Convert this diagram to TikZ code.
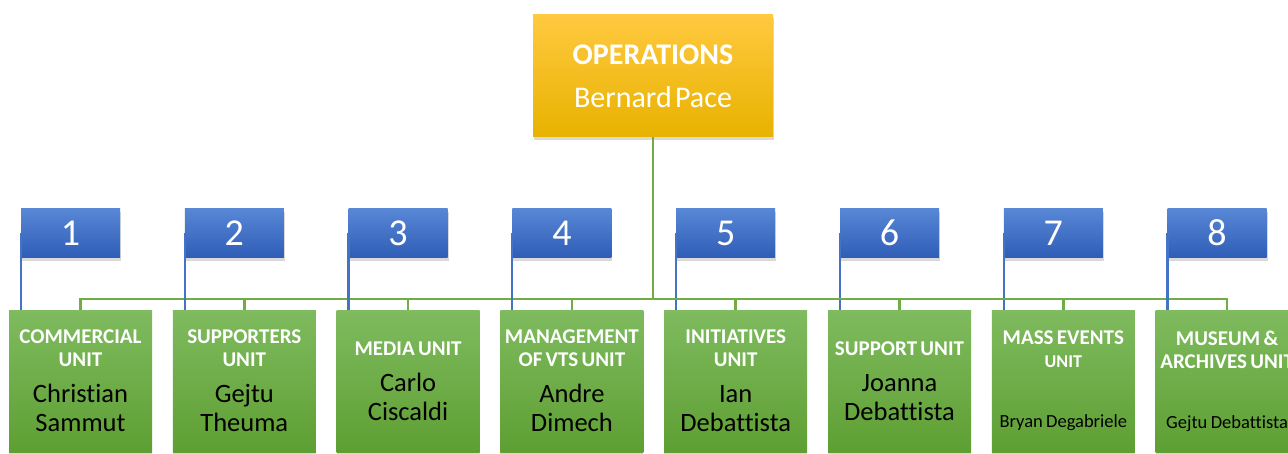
\documentclass[tikz,border=0pt]{standalone}
\usepackage{fontspec}
\setmainfont{Carlito}[Ligatures=NoCommon]
\usetikzlibrary{positioning,shadows}
\definecolor{opstop}{HTML}{FFC940}
\definecolor{opsmid}{HTML}{FFC000}
\definecolor{opsbot}{HTML}{E8B200}
\definecolor{numtop}{HTML}{5887D6}
\definecolor{numbot}{HTML}{2F5DB7}
\definecolor{unittop}{HTML}{7FBB5F}
\definecolor{unitbot}{HTML}{5E9F33}
\definecolor{busgreen}{HTML}{70AD47}
\definecolor{linkblue}{HTML}{4472C4}
\newcommand{\ttlfont}{\fontsize{21}{23}\bfseries\selectfont\color{white}}
\newcommand{\nmefont}{\fontsize{26.5}{29}\selectfont\color{black}}
\tikzset{
    topbox/.style={rectangle, inner sep=0pt, minimum width=240pt, minimum height=122pt,
        text width=240pt, align=center, text=white,
        top color=opstop, middle color=opsmid, bottom color=opsbot,
        drop shadow={opacity=0.3, shadow xshift=1pt, shadow yshift=-3pt}},
    numbox/.style={rectangle, inner sep=0pt, minimum width=99pt, minimum height=49pt,
        text=white, font=\fontsize{38}{40}\selectfont,
        top color=numtop, bottom color=numbot,
        drop shadow={opacity=0.3, shadow xshift=1pt, shadow yshift=-3pt}},
    unitbox/.style={rectangle, inner sep=0pt, minimum width=143pt, minimum height=142pt,
        text width=143pt, align=center,
        top color=unittop, bottom color=unitbot,
        drop shadow={opacity=0.3, shadow xshift=0pt, shadow yshift=-3pt}},
    busline/.style={draw=busgreen, line width=2.6pt},
    numline/.style={draw=linkblue, line width=2.2pt}}
\begin{document}
\begin{tikzpicture}[x=1pt,y=1pt]
\useasboundingbox (0,0) rectangle (1288,453);

% head of the department
\node[topbox] (ops) at (653,377)
    {{\fontsize{30}{34}\bfseries\selectfont OPERATIONS\par}\vspace{9pt}
     {\fontsize{30}{34}\selectfont Bernard Pace\par}};

% units
\node[unitbox] (u1) at (80.5,72)
    {{\ttlfont COMMERCIAL\\UNIT\par}\vspace{7pt}{\nmefont Christian\\Sammut\par}};
\node[unitbox] (u2) [right=20.4pt of u1]
    {{\ttlfont SUPPORTERS\\UNIT\par}\vspace{7pt}{\nmefont Gejtu\\Theuma\par}};
\node[unitbox] (u3) [right=20.4pt of u2]
    {{\ttlfont MEDIA UNIT\par}\vspace{7pt}{\nmefont Carlo\\Ciscaldi\par}};
\node[unitbox] (u4) [right=20.4pt of u3]
    {{\ttlfont MANAGEMENT\\OF VTS UNIT\par}\vspace{7pt}{\nmefont Andre\\Dimech\par}};
\node[unitbox] (u5) [right=20.4pt of u4]
    {{\ttlfont INITIATIVES\\UNIT\par}\vspace{7pt}{\nmefont Ian\\Debattista\par}};
\node[unitbox] (u6) [right=20.4pt of u5]
    {{\ttlfont SUPPORT UNIT\par}\vspace{7pt}{\nmefont Joanna\\Debattista\par}};
\node[unitbox] (u7) [right=20.4pt of u6]
    {{\ttlfont MASS EVENTS\\{\fontsize{18}{20}\selectfont UNIT}\par}\vspace{40pt}
     {\fontsize{18.5}{20}\selectfont Bryan Degabriele\par}};
\node[unitbox] (u8) [right=20.4pt of u7]
    {{\ttlfont MUSEUM \&\\ARCHIVES UNIT\par}\vspace{40pt}
     {\fontsize{18.5}{20}\selectfont Gejtu Debattista\par}};

% numbers above the units
\foreach \i in {1,...,8}
    \node[numbox] (n\i) [above right=52pt and 12pt of u\i.north west] {\i};

\coordinate (bus) at (0,154);
\foreach \i in {1,...,8}{
    \draw[busline] (ops.south) -- (ops.south |- bus) -| (u\i.north);
    \draw[numline] (n\i.west) -- (n\i.west |- u\i.north);
}
\end{tikzpicture}
\end{document}
